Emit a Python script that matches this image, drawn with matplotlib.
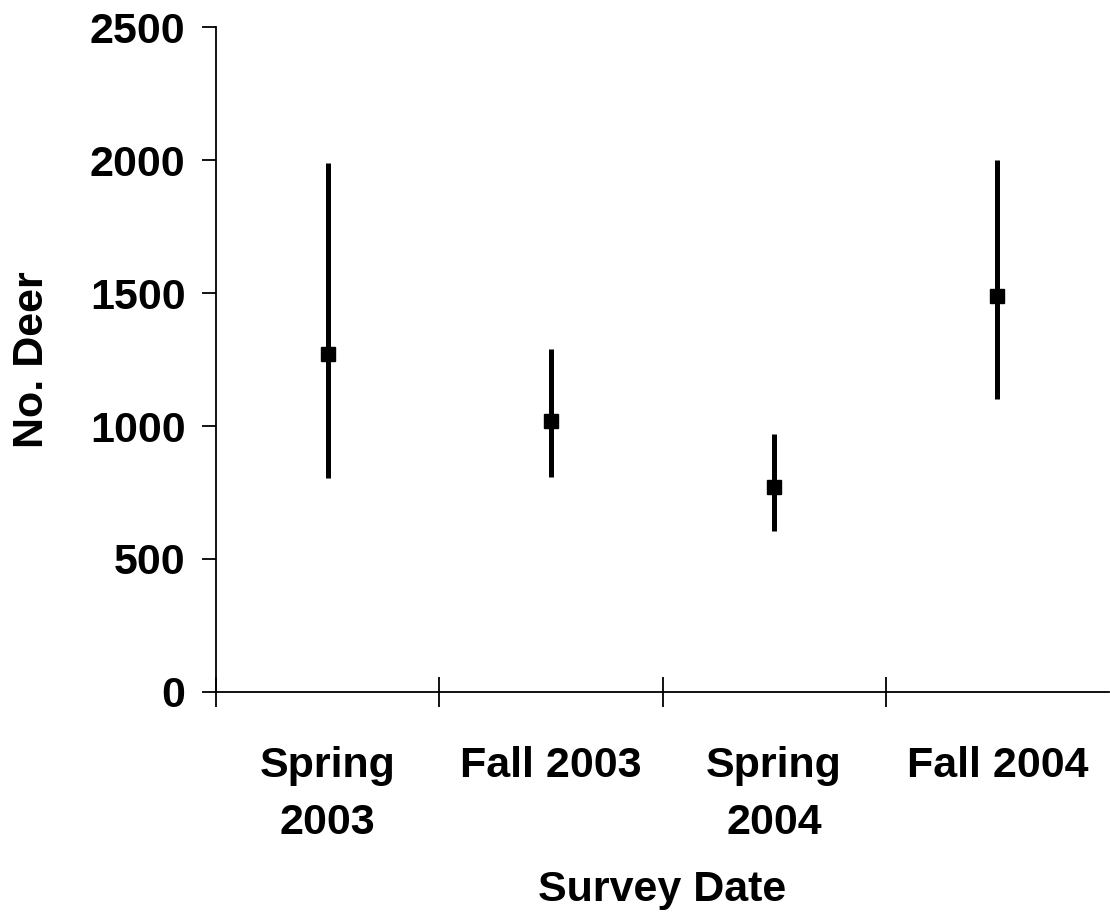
import matplotlib
matplotlib.use("Agg")
import matplotlib.pyplot as plt
import numpy as np

categories = ["Spring\n2003", "Fall 2003", "Spring\n2004", "Fall 2004"]
means = [1270, 1020, 770, 1490]
lows = [805, 810, 605, 1100]
highs = [1990, 1290, 970, 2000]
yticks = [0, 500, 1000, 1500, 2000, 2500]

plt.rcParams['font.family'] = ['Liberation Sans', 'DejaVu Sans']
plt.rcParams['font.weight'] = 'bold'

FS = 31

fig = plt.figure(figsize=(11.1, 9.23), dpi=100)
ax = fig.add_axes([0.1946, 0.2503, 0.8045, 0.7204])

x = np.arange(len(categories))
m = np.array(means)
yerr = np.vstack([m - np.array(lows), np.array(highs) - m])
ax.errorbar(x, m, yerr=yerr, fmt='s', color='black', ms=10, elinewidth=3.6,
            capsize=0, mec='black', mfc='black')

ax.set_xlim(-0.5, 3.5)
ax.set_ylim(0, 2500)
ax.spines['top'].set_visible(False)
ax.spines['right'].set_visible(False)
ax.spines['left'].set_linewidth(1.3)
ax.spines['bottom'].set_linewidth(1.3)
ax.spines['left'].set_bounds(0, 2500)

ax.set_yticks(yticks)
ax.set_yticklabels([str(v) for v in yticks], fontsize=FS, fontweight='bold')
ax.tick_params(axis='y', direction='out', length=10, width=1.3, pad=12)

ax.set_xticks([-0.5, 0.5, 1.5, 2.5])
ax.set_xticklabels([])
ax.tick_params(axis='x', which='major', direction='inout', length=21, width=1.3)
ax.set_xticks(x, minor=True)
ax.set_xticklabels(categories, minor=True, fontsize=FS, fontweight='bold',
                   linespacing=1.55)
ax.tick_params(axis='x', which='minor', length=0, pad=39)

ax.set_xlabel("Survey Date", fontsize=FS, fontweight='bold', labelpad=19)
ax.set_ylabel("No. Deer", fontsize=FS, fontweight='bold', labelpad=27)

fig.savefig("out.png", dpi=100)
